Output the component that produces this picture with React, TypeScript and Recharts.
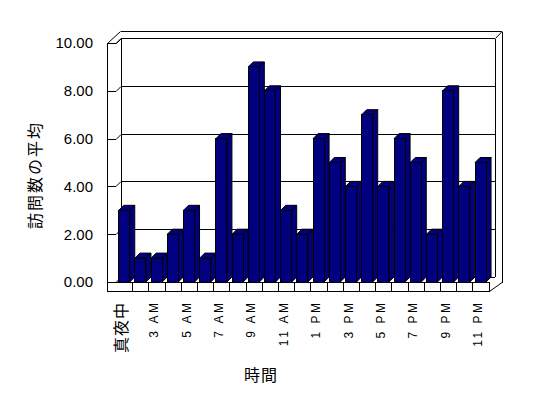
import { BarChart, Bar, XAxis, YAxis, CartesianGrid, Customized } from 'recharts';

const hours = [
  '真夜中', '2 AM', '3 AM', '4 AM', '5 AM', '6 AM', '7 AM', '8 AM', '9 AM', '10 AM', '11 AM', '12 PM',
  '1 PM', '2 PM', '3 PM', '4 PM', '5 PM', '6 PM', '7 PM', '8 PM', '9 PM', '10 PM', '11 PM',
];
const avgVisits = [3, 1, 1, 2, 3, 1, 6, 2, 9, 8, 3, 2, 6, 5, 4, 7, 4, 6, 5, 2, 8, 4, 5];
const yTicks = [0, 2, 4, 6, 8, 10];

const data = hours.map((hour, i) => ({ hour, value: avgVisits[i] }));

// layout of the plot (back plane of the 3d box)
const W = 548;
const H = 398;
const PL = 116;
const PR = 488.5;
const PT = 43;
const PB = 282;
const DEPTH = 5;
const FRONT_X = PL - 9;
const Y_AXIS_W = 40;
const X_AXIS_H = 40;

const NAVY = '#000080';
const LATIN = '"Liberation Sans", Arial, sans-serif';
const CJK = '"Noto Sans CJK JP", sans-serif';

function Box3D(props: any) {
  const { x, y, width, height } = props;
  if (height == null || width == null) return null;
  const x1 = x + width;
  const y1 = y + height;
  const d = DEPTH;
  return (
    <g stroke="#000" strokeWidth={1} fill={NAVY} strokeLinejoin="miter">
      <polygon points={`${x1},${y} ${x1 + d},${y - d} ${x1 + d},${y1 - d} ${x1},${y1}`} />
      <polygon points={`${x},${y} ${x + d},${y - d} ${x1 + d},${y - d} ${x1},${y}`} />
      <rect x={x} y={y} width={width} height={height} shapeRendering="crispEdges" />
    </g>
  );
}

// tick stub on the side wall + gridline on the back wall
function WallLine(p: any) {
  const { x1, x2, y1 } = p;
  const y = Math.round(y1) + 0.5;
  return (
    <g stroke="#000" strokeWidth={1} fill="none">
      <line x1={FRONT_X} y1={y} x2={x1} y2={y} />
      <line x1={x1} y1={y} x2={x1 + DEPTH} y2={y - DEPTH} />
      <line x1={x1 + DEPTH} y1={y - DEPTH} x2={x2 + 6.5} y2={y - DEPTH} shapeRendering="crispEdges" />
    </g>
  );
}

function Frame() {
  const band = (PR - PL) / hours.length;
  const fy = PB + 9.5;
  const top = PT - 11.5;
  const inTop = PT - DEPTH + 0.5;
  const fx = FRONT_X + 0.5;
  return (
    <g stroke="#000" strokeWidth={1} fill="none">
      {/* left side wall */}
      <line x1={fx} y1={PT + 0.5} x2={fx} y2={fy} shapeRendering="crispEdges" />
      <line x1={fx} y1={PT + 0.5} x2={PL + 0.5} y2={PT + 0.5} />
      <line x1={fx} y1={PT + 0.5} x2={PL + 4.5} y2={top} />
      <line x1={PL + 0.5} y1={PT + 0.5} x2={PL + DEPTH + 0.5} y2={inTop} />
      <line x1={PL + DEPTH + 0.5} y1={inTop} x2={PL + DEPTH + 0.5} y2={PB - DEPTH} shapeRendering="crispEdges" />
      {/* top of back wall */}
      <line x1={PL + 4.5} y1={top} x2={PR + 13.5} y2={top} shapeRendering="crispEdges" />
      {/* right wall */}
      <line x1={PR + 13.5} y1={top} x2={PR + 13.5} y2={PB + 0.5} shapeRendering="crispEdges" />
      <line x1={PR + 7} y1={inTop} x2={PR + 7} y2={PB - DEPTH} shapeRendering="crispEdges" />
      <line x1={PR + 7} y1={inTop} x2={PR + 13.5} y2={top} />
      {/* floor */}
      <line x1={fx} y1={fy} x2={PR + 1} y2={fy} shapeRendering="crispEdges" />
      <line x1={fx} y1={PB + 0.5} x2={PR + 1} y2={PB + 0.5} shapeRendering="crispEdges" />
      <line x1={PR + 1} y1={PB + 0.5} x2={PR + 1} y2={fy} shapeRendering="crispEdges" />
      <line x1={PR + 1} y1={fy} x2={PR + 13.5} y2={PB + 0.5} />
      {hours.slice(1).map((h, i) => {
        const x = Math.round(PL + band * (i + 1)) + 0.5;
        return <line key={h} x1={x} y1={PB} x2={x} y2={fy} shapeRendering="crispEdges" />;
      })}
      {/* axis titles */}
      <text
        x={0}
        y={0}
        transform={`translate(35,175) rotate(-90)`}
        textAnchor="middle"
        dy="0.35em"
        stroke="none"
        fill="#000"
        fontFamily={CJK}
        fontSize={16}
        letterSpacing={2}
      >
        訪問数の平均
      </text>
      <text
        x={261}
        y={375}
        textAnchor="middle"
        dy="0.35em"
        stroke="none"
        fill="#000"
        fontFamily={CJK}
        fontSize={16}
        letterSpacing={1}
      >
        時間
      </text>
    </g>
  );
}

function HourTick(props: any) {
  const { x, payload } = props;
  const label = String(payload.value);
  const cjk = /[^\x00-\x7f]/.test(label);
  const spacing = cjk ? 1 : 2.5;
  return (
    <text
      x={0}
      y={0}
      transform={`translate(${x - 2.5},${303 - spacing}) rotate(-90)`}
      textAnchor="end"
      dy="0.35em"
      fill="#000"
      fontFamily={cjk ? CJK : LATIN}
      fontSize={cjk ? 16 : 12}
      letterSpacing={spacing}
    >
      {label}
    </text>
  );
}

function ValueTick(props: any) {
  const { y, payload } = props;
  return (
    <text x={93} y={y} textAnchor="end" dy="0.36em" fill="#000" fontFamily={LATIN} fontSize={15}>
      {Number(payload.value).toFixed(2)}
    </text>
  );
}

export default function App() {
  return (
    <div style={{ position: 'fixed', left: 0, top: 0, width: W, height: H, background: '#fff' }}>
      <BarChart
        width={W}
        height={H}
        data={data}
        margin={{ top: PT, right: W - PR, bottom: H - PB - X_AXIS_H, left: PL - Y_AXIS_W }}
        barCategoryGap="17%"
      >
        <CartesianGrid vertical={false} horizontal={(p: any) => <WallLine {...p} />} />
        <Customized component={<Frame />} />
        <XAxis
          dataKey="hour"
          height={X_AXIS_H}
          interval={1}
          axisLine={false}
          tickLine={false}
          tick={(p: any) => <HourTick {...p} />}
        />
        <YAxis
          domain={[0, 10]}
          ticks={yTicks}
          width={Y_AXIS_W}
          axisLine={false}
          tickLine={false}
          tick={(p: any) => <ValueTick {...p} />}
        />
        <Bar dataKey="value" shape={<Box3D />} isAnimationActive={false} />
      </BarChart>
    </div>
  );
}
